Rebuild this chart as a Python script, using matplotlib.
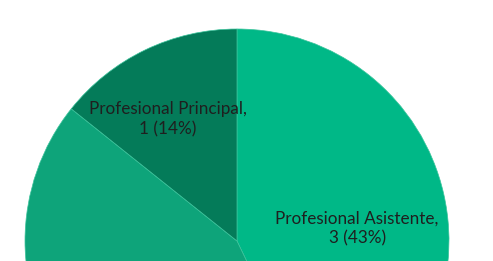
import matplotlib
matplotlib.use("Agg")
import matplotlib.pyplot as plt
import numpy as np

categories = ["Profesional Asistente", "Profesional", "Profesional Principal"]
values = [3, 3, 1]
colors = ["#00b887", "#0ea47a", "#047b59"]
shown = [True, False, True]

W, H = 493, 261
fig = plt.figure(figsize=(W / 100, H / 100), dpi=100)
ax = fig.add_axes([0, 0, 1, 1])

cx, cy, R = 237, H - 241, 212
wedges, _ = ax.pie(values, colors=colors, startangle=90, counterclock=False,
                   center=(cx, cy), radius=R,
                   wedgeprops=dict(edgecolor="#3cc49c", linewidth=0.5))
ax.set_xlim(0, W)
ax.set_ylim(0, H)
ax.set_aspect("auto")
ax.axis("off")

total = sum(values)
# label placement (polar offset from centre, angle in deg, radius fraction)
label_pos = {0: (6, 0.57), 2: (119.5, 0.66)}
for i, (cat, v) in enumerate(zip(categories, values)):
    if not shown[i]:
        continue
    ang, rf = label_pos[i]
    x = cx + rf * R * np.cos(np.radians(ang))
    y = cy + rf * R * np.sin(np.radians(ang))
    ax.text(x, y, f"{cat},\n{v} ({v / total:.0%})", ha="center", va="center",
            fontsize=12.3, color="#1f1f1f", family=["Lato", "DejaVu Sans"],
            linespacing=1.3)

fig.savefig("out.png", dpi=100)
